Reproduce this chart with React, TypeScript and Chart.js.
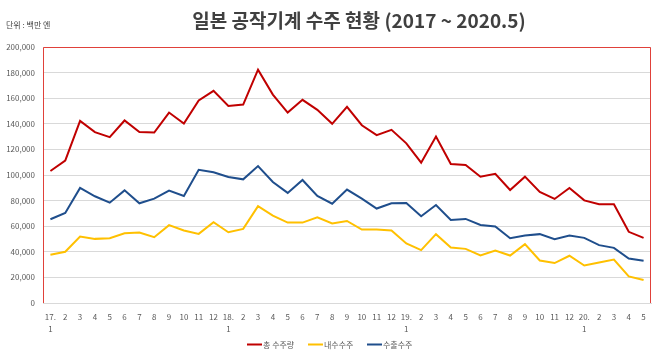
import React, { useEffect, useRef } from "react";
import { Chart, registerables } from "chart.js";

Chart.register(...registerables);

const TITLE = "일본 공작기계 수주 현황 (2017 ~ 2020.5)";
const UNIT = "단위 : 백만 엔";

const CATEGORIES: (string | string[])[] = [
  ["17.", "1"], "2", "3", "4", "5", "6", "7", "8", "9", "10", "11", "12",
  ["18.", "1"], "2", "3", "4", "5", "6", "7", "8", "9", "10", "11", "12",
  ["19.", "1"], "2", "3", "4", "5", "6", "7", "8", "9", "10", "11", "12",
  ["20.", "1"], "2", "3", "4", "5",
];

const TOTAL = [
  103100, 111200, 142300, 133500, 129600, 142600, 133500, 133200, 148800, 140200, 158200, 165700,
  154000, 155000, 182300, 162800, 148800, 158700, 150900, 140000, 153200, 138900, 131100, 135300,
  124700, 109600, 130100, 108600, 107800, 98700, 101000, 88300, 98700, 86700, 81300, 89900,
  80200, 77100, 77100, 55600, 50900,
];

const DOMESTIC = [
  37700, 40000, 51900, 50100, 50600, 54500, 55100, 51400, 60800, 56600, 54000, 63100,
  55300, 57900, 75600, 68300, 62800, 62800, 67000, 62100, 64100, 57400, 57400, 56600,
  46500, 41300, 53800, 43400, 42300, 37100, 41000, 37100, 46000, 33200, 31200, 36900,
  29300, 31700, 34000, 20800, 17900,
];

const EXPORT = [
  65400, 70400, 89900, 83400, 78400, 88000, 77900, 81500, 87800, 83600, 104100, 102100,
  98400, 96600, 107000, 94500, 86000, 96100, 83600, 77600, 88600, 81500, 73800, 77900,
  78200, 67800, 76600, 64900, 65700, 61000, 59700, 50600, 52700, 53800, 49900, 52700,
  50900, 45200, 43100, 34800, 33000,
];

const SERIES_NAMES = ["총 수주량", "내수수주", "수출수주"];
const SERIES_COLORS = ["#C00000", "#FFC000", "#1F4E8C"];

const FONT = "'Noto Sans CJK KR', 'Noto Sans', sans-serif";
const TEXT = "#595959";

export default function App() {
  const ref = useRef<HTMLCanvasElement | null>(null);

  useEffect(() => {
    document.body.style.margin = "0";
    const canvas = ref.current;
    if (!canvas) return;

    const decor = {
      id: "decor",
      afterDraw(chart: any) {
        const { ctx, chartArea } = chart;
        ctx.save();
        // frame (left, top, right)
        ctx.strokeStyle = "#E0413A";
        ctx.lineWidth = 1;
        ctx.beginPath();
        ctx.moveTo(chartArea.left + 0.5, chartArea.bottom);
        ctx.lineTo(chartArea.left + 0.5, chartArea.top + 0.5);
        ctx.lineTo(chartArea.right - 0.5, chartArea.top + 0.5);
        ctx.lineTo(chartArea.right - 0.5, chartArea.bottom);
        ctx.stroke();
        // title
        ctx.fillStyle = "#404040";
        ctx.font = `bold 19px ${FONT}`;
        ctx.textAlign = "center";
        ctx.textBaseline = "middle";
        ctx.fillText(TITLE, 359, 21);
        // unit
        ctx.fillStyle = "#404040";
        ctx.font = `8px ${FONT}`;
        ctx.textAlign = "left";
        ctx.fillText(UNIT, 6, 25);
        // legend
        const items = [247, 308, 367];
        ctx.font = `8px ${FONT}`;
        ctx.textBaseline = "middle";
        SERIES_NAMES.forEach((name, i) => {
          const x = items[i];
          ctx.fillStyle = SERIES_COLORS[i];
          ctx.fillRect(x, 343.5, 15, 2);
          ctx.fillStyle = TEXT;
          ctx.fillText(name, x + 16, 344.5);
        });
        ctx.restore();
      },
    };

    const chart = new Chart(canvas, {
      type: "line",
      data: {
        labels: CATEGORIES,
        datasets: [TOTAL, DOMESTIC, EXPORT].map((d, i) => ({
          label: SERIES_NAMES[i],
          data: d,
          borderColor: SERIES_COLORS[i],
          backgroundColor: SERIES_COLORS[i],
          borderWidth: 2,
          pointRadius: 0,
          tension: 0,
          fill: false,
        })),
      },
      options: {
        responsive: false,
        animation: false,
        layout: { padding: { top: 47, right: 9, left: 0, bottom: 0 } },
        plugins: {
          legend: { display: false },
          tooltip: { enabled: false },
          title: { display: false },
        },
        scales: {
          x: {
            offset: true,
            grid: { display: false, drawTicks: false },
            border: { display: true, color: "#D9D9D9" },
            ticks: {
              autoSkip: false,
              maxRotation: 0,
              minRotation: 0,
              padding: 8,
              color: TEXT,
              font: { family: FONT, size: 8, lineHeight: 1.5 },
            },
            afterFit: (s: any) => { s.height = 54; },
          },
          y: {
            min: 0,
            max: 200000,
            grid: { color: "#D9D9D9", drawTicks: false },
            border: { display: false },
            ticks: {
              stepSize: 20000,
              padding: 8,
              color: TEXT,
              font: { family: FONT, size: 8 },
              callback: (v: any) => Number(v).toLocaleString("en-US"),
            },
            afterFit: (s: any) => { s.width = 43; },
          },
        },
      },
      plugins: [decor],
    });
    return () => chart.destroy();
  }, []);

  return <canvas ref={ref} width={660} height={357} style={{ display: "block" }} />;
}
